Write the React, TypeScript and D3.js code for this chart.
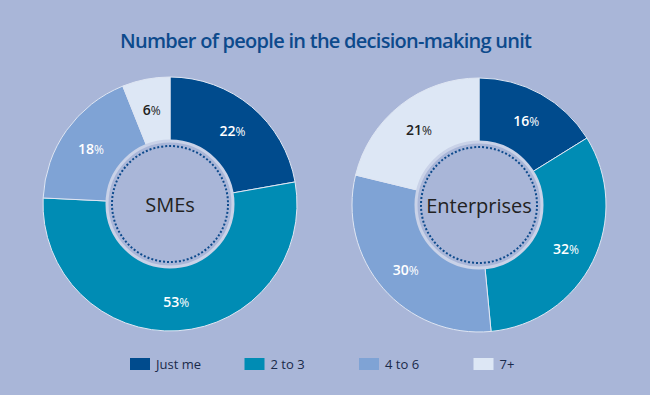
import React, { useRef, useEffect } from 'react'
import * as d3 from 'd3'

const W = 650
const H = 395
const BG = '#a9b6d8'

const categories = ['Just me', '2 to 3', '4 to 6', '7+']
const colors = ['#004b8d', '#008cb4', '#7fa3d5', '#dde7f5']
const labelColors = ['#ffffff', '#ffffff', '#ffffff', '#222222']

const groups = ['SMEs', 'Enterprises']
const smeValues = [22, 53, 18, 6]
const enterpriseValues = [16, 32, 30, 21]

const OUTER = 127
const INNER = 63

const App = () => {
  const ref = useRef<SVGSVGElement>(null)

  useEffect(() => {
    const svg = d3.select(ref.current)
    svg.selectAll('*').remove()

    svg.append('rect').attr('width', W).attr('height', H).attr('fill', BG)

    svg
      .append('text')
      .attr('x', 326)
      .attr('y', 48)
      .attr('text-anchor', 'middle')
      .attr('font-family', 'Open Sans')
      .attr('font-weight', 600)
      .attr('font-size', 20)
      .attr('fill', '#0d4a8c')
      .attr('textLength', 412)
      .text('Number of people in the decision-making unit')

    const pie = d3.pie<number>().sort(null).value(d => d)
    const arc = d3.arc<d3.PieArcDatum<number>>().innerRadius(INNER).outerRadius(OUTER)
    const labelArc = d3
      .arc<d3.PieArcDatum<number>>()
      .innerRadius((INNER + OUTER) / 2 + 2)
      .outerRadius((INNER + OUTER) / 2 + 2)

    const centers = [
      { x: 170, y: 204 },
      { x: 479, y: 205 }
    ]
    const datasets = [smeValues, enterpriseValues]

    datasets.forEach((values, gi) => {
      const g = svg
        .append('g')
        .attr('transform', `translate(${centers[gi].x},${centers[gi].y})`)

      g.selectAll('path.slice')
        .data(pie(values))
        .join('path')
        .attr('class', 'slice')
        .attr('d', arc)
        .attr('fill', (d, i) => colors[i])
        .attr('stroke', '#dfe6f3')
        .attr('stroke-width', 1)

      // inner disc with light ring and dotted circle
      g.append('circle')
        .attr('r', INNER)
        .attr('fill', BG)
        .attr('stroke', '#c9d2e8')
        .attr('stroke-width', 3)
      g.append('circle')
        .attr('r', INNER - 5)
        .attr('fill', 'none')
        .attr('stroke', '#0d4a8c')
        .attr('stroke-width', 2)
        .attr('stroke-dasharray', '2 2')

      g.append('text')
        .attr('y', 8)
        .attr('text-anchor', 'middle')
        .attr('font-family', 'Open Sans')
        .attr('font-size', 20)
        .attr('fill', '#222')
        .text(groups[gi])

      const lbl = g
        .selectAll('text.lbl')
        .data(pie(values))
        .join('text')
        .attr('class', 'lbl')
        .attr('transform', d => {
          const [x, y] = labelArc.centroid(d)
          return `translate(${x},${y + 6})`
        })
        .attr('text-anchor', 'middle')
        .attr('font-family', 'Open Sans')
        .attr('font-weight', 600)
        .attr('font-size', 14)
        .attr('fill', (d, i) => labelColors[i])
      lbl.append('tspan').text(d => d.data)
      lbl.append('tspan').attr('font-size', 12).attr('font-weight', 500).text('%')
    })

    const legend = svg
      .append('g')
      .selectAll('g')
      .data(categories)
      .join('g')
      .attr('transform', (d, i) => `translate(${130 + i * 114.5},358)`)
    legend
      .append('rect')
      .attr('width', 20)
      .attr('height', 12)
      .attr('fill', (d, i) => colors[i])
    legend
      .append('text')
      .attr('x', 26)
      .attr('y', 11)
      .attr('font-family', 'Open Sans')
      .attr('font-size', 13)
      .attr('fill', '#1a2a4a')
      .text(d => d)
  }, [])

  return (
    <svg
      ref={ref}
      width={W}
      height={H}
      style={{ position: 'absolute', left: 0, top: 0 }}
    />
  )
}

export default App
